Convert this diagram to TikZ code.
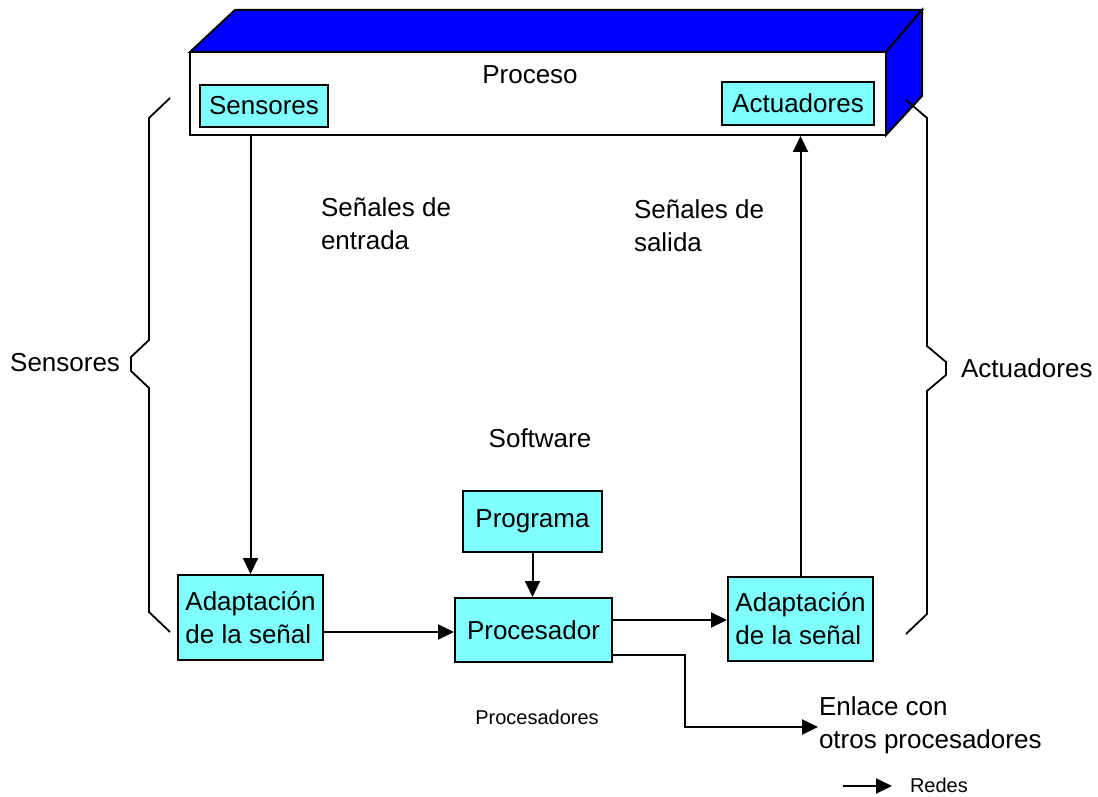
\documentclass[tikz,border=0pt]{standalone}
\usepackage{fontspec}
\setmainfont{Liberation Sans}
\usetikzlibrary{arrows.meta}
\definecolor{boxcyan}{RGB}{128,255,255}
\definecolor{procblue}{RGB}{0,0,255}
\begin{document}
\begin{tikzpicture}[x=0.5pt,y=-0.5pt,
  line width=1pt,
  every node/.style={font=\fontsize{13}{16.5}\selectfont},
  cbox/.style={draw=black, fill=boxcyan, inner sep=0pt, align=left},
  lbl/.style={inner sep=0pt, align=left},
  small/.style={inner sep=0pt, font=\fontsize{10}{12}\selectfont},
  arrow/.style={-{Triangle[length=8pt,width=7.5pt]}},
  brace/.style={line width=0.9pt, line join=miter}]
\useasboundingbox (0,0) rectangle (1098,797);

% process block drawn as a solid slab
\filldraw[fill=procblue, draw=black] (190,52) -- (235,10) -- (922,10) -- (886,52) -- cycle;
\filldraw[fill=procblue, draw=black] (886,52) -- (922,10) -- (922,96) -- (886,135) -- cycle;
\node[draw=black, fill=white, inner sep=0pt, minimum width=348pt, minimum height=41.5pt] (proceso) at (538,93.5) {};
\node[lbl] (proctxt) at (530,75) {Proceso};
\node[cbox, minimum width=64pt, minimum height=21pt] (sens) at (264,106) {Sensores};
\node[cbox, minimum width=76pt, minimum height=21.5pt] (act) at (798,103.5) {Actuadores};

% lower chain of blocks
\node[cbox, minimum width=72.5pt, minimum height=42.5pt] (ladapt) at (250.5,617.5) {Adaptación\\de la señal};
\node[cbox, minimum width=78.5pt, minimum height=32pt, align=center] (proc) at (533.5,630) {Procesador};
\node[cbox, minimum width=69.5pt, minimum height=30.5pt, align=center] (prog) at (532.5,521.5) {Programa};
\node[cbox, minimum width=72.5pt, minimum height=42pt] (radapt) at (800.5,619) {Adaptación\\de la señal};

% free labels
\node[lbl, anchor=west] (sin) at (320,223.5) {Señales de\\entrada};
\node[lbl, anchor=west] (sout) at (633,226) {Señales de\\salida};
\node[lbl] (soft) at (540,438) {Software};
\node[small] (procs) at (537,717) {Procesadores};
\node[lbl, anchor=west] (enlace) at (818,725) {Enlace con\\otros procesadores};
\node[lbl, anchor=east] (lsens) at (121,363) {Sensores};
\node[lbl, anchor=west] (lact) at (960,368) {Actuadores};
\node[small, anchor=west] (redes) at (909,785) {Redes};
\coordinate (redesL) at (843,786);

% connectors
\draw[arrow] (proceso.south -| ladapt.north) -- (ladapt.north);
\draw[arrow] (ladapt.east |- 0,632) -- (proc.west |- 0,632);
\draw[arrow] (prog.south) -- (prog.south |- proc.north);
\draw[arrow] (proc.east |- 0,620) -- (radapt.west |- 0,620);
\draw[arrow] (radapt.north) -- (radapt.north |- proceso.south);
\draw[arrow] (proc.east |- 0,655) -- (685,655) -- (685,727) -- (enlace.west |- 0,727);
\draw[arrow] (redesL) -- (892,786);

% braces
\draw[brace] (170,98) -- (149,118) -- (149,340) -- (131,357) -- (131,371) -- (149,388) -- (149,612) -- (170,632);
\draw[brace] (906,100) -- (927,118) -- (927,346) -- (946,362) -- (946,375) -- (927,391) -- (927,614) -- (906,634);
\end{tikzpicture}
\end{document}
